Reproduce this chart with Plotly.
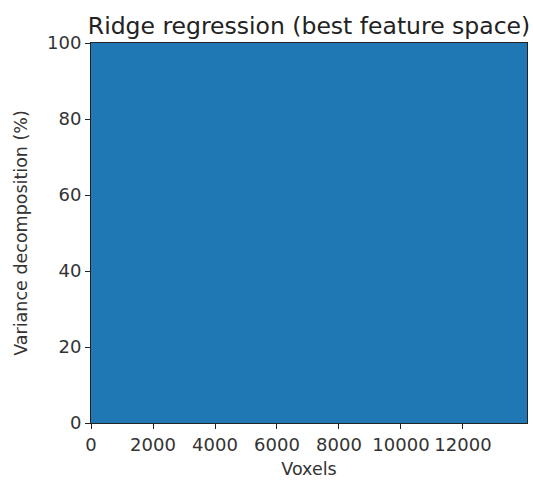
import plotly.graph_objects as go

# Data
voxels = [0, 14065]
variance_pct = [100, 100]
x_ticks = [0, 2000, 4000, 6000, 8000, 10000, 12000]
y_ticks = [0, 20, 40, 60, 80, 100]

fig = go.Figure()
fig.add_trace(go.Scatter(
    x=voxels, y=variance_pct, mode="lines",
    line=dict(color="#1f77b4", width=0),
    fill="tozeroy", fillcolor="#1f77b4",
    hoverinfo="skip", showlegend=False,
))

font = "DejaVu Sans"
fig.update_layout(
    width=533, height=482,
    margin=dict(l=91, r=6, t=43, b=59),
    paper_bgcolor="white", plot_bgcolor="white",
    title=dict(text="Ridge regression (best feature space)",
               font=dict(family=font, size=23.5, color="#222"),
               x=0.5, xref="paper", xanchor="center",
               y=1, yref="paper", yanchor="bottom", pad=dict(b=9)),
    xaxis=dict(range=[0, 14065], tickvals=x_ticks,
               ticktext=[str(v) for v in x_ticks],
               ticks="outside", ticklen=5, tickwidth=1, tickcolor="#222",
               showline=True, linecolor="#222", linewidth=1, mirror=True,
               showgrid=False, zeroline=False,
               tickfont=dict(family=font, size=18, color="#333"),
               title=dict(text="Voxels", font=dict(family=font, size=17.5, color="#333"), standoff=9)),
    yaxis=dict(range=[0, 100], tickvals=y_ticks,
               ticks="outside", ticklen=5, tickwidth=1, tickcolor="#222",
               showline=True, linecolor="#222", linewidth=1, mirror=True,
               showgrid=False, zeroline=False,
               tickfont=dict(family=font, size=18, color="#333"),
               title=dict(text="Variance decomposition (%)", font=dict(family=font, size=17.5, color="#333"), standoff=14)),
)

fig.write_html("out.html")
